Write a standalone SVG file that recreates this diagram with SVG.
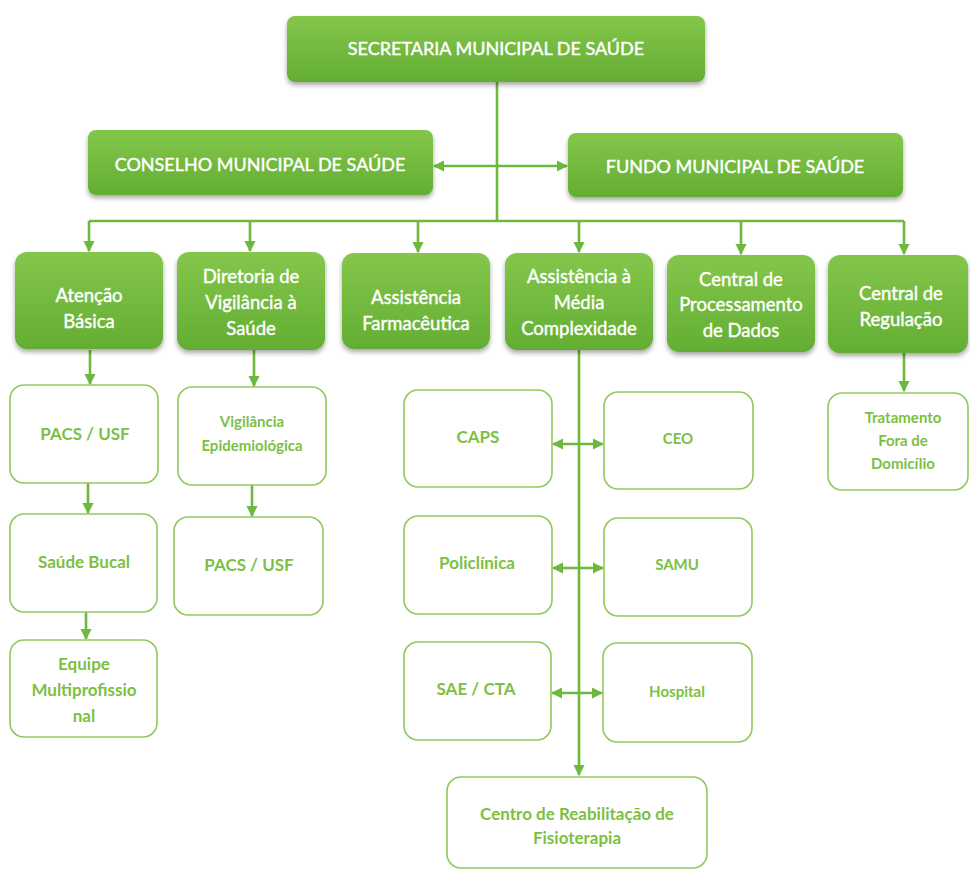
<svg xmlns="http://www.w3.org/2000/svg" width="970" height="871" viewBox="0 0 970 871">
<defs>
<linearGradient id="g" x1="0" y1="0" x2="0" y2="1">
<stop offset="0" stop-color="#84c64b"/>
<stop offset="1" stop-color="#63ae33"/>
</linearGradient>
<filter id="sh" x="-10%" y="-10%" width="120%" height="130%">
<feGaussianBlur in="SourceAlpha" stdDeviation="2.5"/>
<feOffset dx="0" dy="3" result="b"/>
<feComponentTransfer><feFuncA type="linear" slope="0.35"/></feComponentTransfer>
<feMerge><feMergeNode/><feMergeNode in="SourceGraphic"/></feMerge>
</filter>
<marker id="ah" viewBox="0 0 10 10" refX="9" refY="5" markerWidth="4.3" markerHeight="4.3" orient="auto-start-reverse" markerUnits="strokeWidth">
<path d="M0,0 L10,5 L0,10 z" fill="#6fb83f"/>
</marker>
</defs>
<style>
.gb{fill:url(#g);filter:url(#sh)}
.wb{fill:#fff;stroke:#8fca5c;stroke-width:1.6}
.wt{font-family:Lato,"Liberation Sans",sans-serif;fill:#fff;stroke:#fff;stroke-width:0.4;text-anchor:middle;font-size:18.5px}
.tt{font-family:Lato,"Liberation Sans",sans-serif;fill:#fff;stroke:#fff;stroke-width:0.4;text-anchor:middle;font-size:18px}
.gt{font-family:Lato,"Liberation Sans",sans-serif;fill:#7cc043;text-anchor:middle;font-weight:bold;font-size:17px}
.gs{font-family:Lato,"Liberation Sans",sans-serif;fill:#7cc043;text-anchor:middle;font-weight:bold;font-size:15px}
.ln{fill:none;stroke:#6fb83f;stroke-width:2.6}
</style>
<rect width="970" height="871" fill="#fff"/>
<g id="connectors">
<path class="ln" d="M497,82 V221"/>
<path class="ln" d="M434,166 H567" marker-start="url(#ah)" marker-end="url(#ah)"/>
<path class="ln" d="M89,221 H904"/>
<path class="ln" d="M89,221 V251" marker-end="url(#ah)"/>
<path class="ln" d="M250,221 V251" marker-end="url(#ah)"/>
<path class="ln" d="M418,221 V252" marker-end="url(#ah)"/>
<path class="ln" d="M579,221 V252" marker-end="url(#ah)"/>
<path class="ln" d="M741,221 V254" marker-end="url(#ah)"/>
<path class="ln" d="M904,221 V254" marker-end="url(#ah)"/>
<path class="ln" d="M90,350 V384" marker-end="url(#ah)"/>
<path class="ln" d="M254,350 V386" marker-end="url(#ah)"/>
<path class="ln" d="M88,483 V513" marker-end="url(#ah)"/>
<path class="ln" d="M252,485 V516" marker-end="url(#ah)"/>
<path class="ln" d="M86,612 V639" marker-end="url(#ah)"/>
<path class="ln" d="M904,353 V391" marker-end="url(#ah)"/>
<path class="ln" d="M579,350 V775" marker-end="url(#ah)"/>
<path class="ln" d="M553,444 H603" marker-start="url(#ah)" marker-end="url(#ah)"/>
<path class="ln" d="M553,568 H603" marker-start="url(#ah)" marker-end="url(#ah)"/>
<path class="ln" d="M552,693 H602" marker-start="url(#ah)" marker-end="url(#ah)"/>
</g>
<g id="secretaria"><rect class="gb" x="287" y="16" width="418" height="66" rx="8"/><text class="tt" x="496" y="55">SECRETARIA MUNICIPAL DE SAÚDE</text></g>
<g id="conselho"><rect class="gb" x="88" y="130" width="345" height="65" rx="8"/><text class="tt" x="260" y="171">CONSELHO MUNICIPAL DE SAÚDE</text></g>
<g id="fundo"><rect class="gb" x="568" y="133" width="335" height="64" rx="8"/><text class="tt" x="735" y="173">FUNDO MUNICIPAL DE SAÚDE</text></g>
<g id="atencao"><rect class="gb" x="15" y="252" width="148" height="97" rx="12"/><text class="wt" x="89" y="302">Atenção</text><text class="wt" x="89" y="328">Básica</text></g>
<g id="diretoria"><rect class="gb" x="177" y="252" width="148" height="98" rx="12"/><text class="wt" x="251" y="283">Diretoria de</text><text class="wt" x="251" y="309">Vigilância à</text><text class="wt" x="251" y="335">Saúde</text></g>
<g id="farmaceutica"><rect class="gb" x="342" y="253" width="148" height="96" rx="12"/><text class="wt" x="416" y="304">Assistência</text><text class="wt" x="416" y="330">Farmacêutica</text></g>
<g id="media"><rect class="gb" x="505" y="253" width="148" height="97" rx="12"/><text class="wt" x="579" y="283">Assistência à</text><text class="wt" x="579" y="309">Média</text><text class="wt" x="579" y="335">Complexidade</text></g>
<g id="processamento"><rect class="gb" x="667" y="255" width="148" height="97" rx="12"/><text class="wt" x="741" y="286">Central de</text><text class="wt" x="741" y="311">Processamento</text><text class="wt" x="741" y="337">de Dados</text></g>
<g id="regulacao"><rect class="gb" x="828" y="255" width="140" height="98" rx="12"/><text class="wt" x="901" y="300">Central de</text><text class="wt" x="901" y="326">Regulação</text></g>
<g id="pacs1"><rect class="wb" x="10" y="385" width="148" height="98" rx="14"/><text class="gt" x="85" y="440">PACS / USF</text></g>
<g id="saudebucal"><rect class="wb" x="10" y="514" width="147" height="98" rx="14"/><text class="gt" x="84" y="568">Saúde Bucal</text></g>
<g id="equipe"><rect class="wb" x="10" y="640" width="147" height="97" rx="14"/><text class="gt" x="84" y="670">Equipe</text><text class="gt" x="84" y="696">Multiprofissio</text><text class="gt" x="84" y="722">nal</text></g>
<g id="vigilancia"><rect class="wb" x="178" y="387" width="148" height="98" rx="14"/><text class="gs" x="252" y="427">Vigilância</text><text class="gs" x="252" y="451">Epidemiológica</text></g>
<g id="pacs2"><rect class="wb" x="174" y="517" width="149" height="98" rx="14"/><text class="gt" x="249" y="571">PACS / USF</text></g>
<g id="caps"><rect class="wb" x="404" y="390" width="148" height="97" rx="14"/><text class="gt" x="478" y="443">CAPS</text></g>
<g id="ceo"><rect class="wb" x="604" y="392" width="149" height="97" rx="14"/><text class="gs" x="678" y="444">CEO</text></g>
<g id="policlinica"><rect class="wb" x="404" y="516" width="148" height="98" rx="14"/><text class="gt" x="477" y="569">Policlínica</text></g>
<g id="samu"><rect class="wb" x="604" y="518" width="148" height="98" rx="14"/><text class="gs" x="677" y="570">SAMU</text></g>
<g id="saecta"><rect class="wb" x="404" y="642" width="147" height="98" rx="14"/><text class="gt" x="476" y="695">SAE / CTA</text></g>
<g id="hospital"><rect class="wb" x="603" y="643" width="149" height="99" rx="14"/><text class="gs" x="677" y="697">Hospital</text></g>
<g id="tfd"><rect class="wb" x="828" y="393" width="140" height="97" rx="14"/><text class="gs" x="903" y="423">Tratamento</text><text class="gs" x="903" y="446">Fora de</text><text class="gs" x="903" y="469">Domicílio</text></g>
<g id="centro"><rect class="wb" x="447" y="777" width="260" height="91" rx="14"/><text class="gt" x="577" y="820">Centro de Reabilitação de</text><text class="gt" x="577" y="844">Fisioterapia</text></g>
</svg>
